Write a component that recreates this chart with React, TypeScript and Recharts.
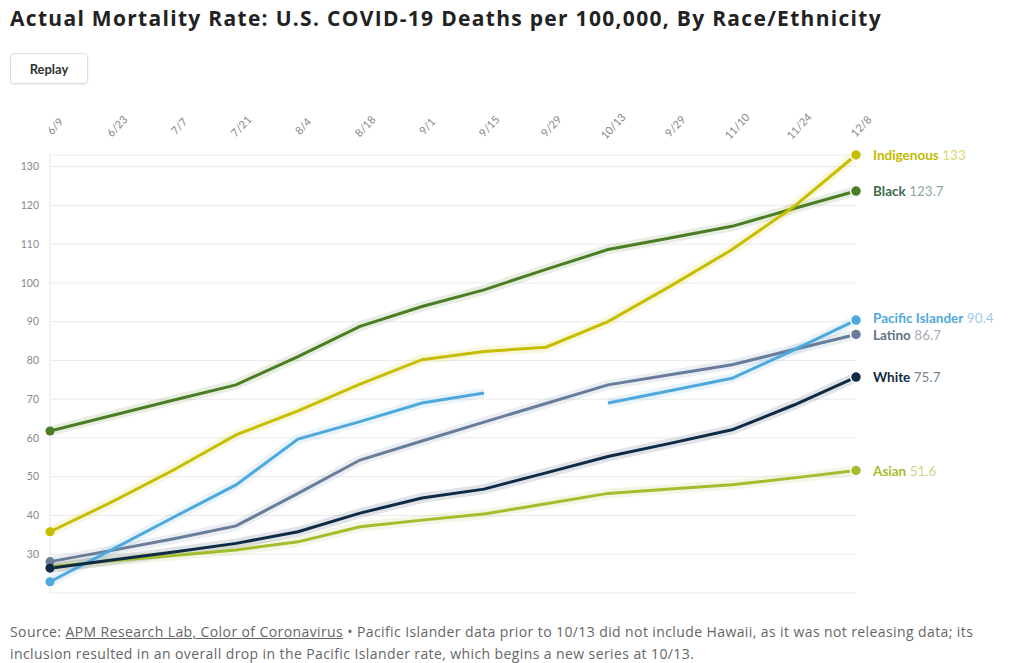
import { CartesianGrid, Line, LineChart, XAxis, YAxis } from "recharts";

// Values, one per two-week period.
const dates = ["6/9", "6/23", "7/7", "7/21", "8/4", "8/18", "9/1", "9/15", "9/29", "10/13", "9/29", "11/10", "11/24", "12/8"];
const indigenous = [35.8, 43.5, 51.8, 60.8, 67.0, 73.9, 80.2, 82.3, 83.4, 90.0, 99.1, 108.6, 119.7, 133];
const black = [61.8, 65.8, 69.8, 73.7, 81.0, 88.8, 93.9, 98.2, 103.5, 108.6, 111.6, 114.6, 119.2, 123.7];
const pacificIslander = [22.9, 31.2, 39.6, 47.9, 59.7, 64.2, 69.0, 71.6, null, 69.0, 72.2, 75.4, 82.7, 90.4];
const latino = [28.1, 31.0, 34.0, 37.3, 45.7, 54.3, 59.2, 64.1, 68.9, 73.7, 76.3, 78.9, 82.8, 86.7];
const white = [26.4, 28.5, 30.6, 32.8, 35.8, 40.6, 44.5, 46.8, 51.0, 55.2, 58.6, 62.1, 68.5, 75.7];
const asian = [26.8, 28.3, 29.7, 31.1, 33.2, 37.1, 38.8, 40.4, 43.0, 45.7, 46.8, 47.9, 49.7, 51.6];
const yTicks = [20, 30, 40, 50, 60, 70, 80, 90, 100, 110, 120, 130];

const series = [
  { key: "asian", name: "Asian", values: asian, color: "#a4bd2c", text: "#a4bd2c", nudge: 0 },
  { key: "latino", name: "Latino", values: latino, color: "#687d99", text: "#5f7289", nudge: 1 },
  { key: "pacific", name: "Pacific Islander", values: pacificIslander, color: "#4fa8dc", text: "#4fa8dc", nudge: -2 },
  { key: "white", name: "White", values: white, color: "#0e2a45", text: "#0e2a45", nudge: 0 },
  { key: "black", name: "Black", values: black, color: "#4b7d24", text: "#3d6b4c", nudge: 0 },
  { key: "indigenous", name: "Indigenous", values: indigenous, color: "#c6be00", text: "#c2ba00", nudge: 0 },
];

const data = dates.map((date, i) => {
  const row: Record<string, string | number | null> = { date };
  series.forEach((s) => (row[s.key] = s.values[i]));
  return row;
});

const font = "Lato, 'Open Sans', sans-serif";
const wideFont = "'Open Sans', Lato, sans-serif";
const last = dates.length - 1;

function DateTick({ x, y, payload }: any) {
  return (
    <g transform={`translate(${x + 6},${y - 20})`}>
      <text transform="rotate(-47)" textAnchor="middle" dominantBaseline="middle" fontSize={11} fill="#888" fontFamily={font}>
        {payload.value}
      </text>
    </g>
  );
}

// start and end dots, plus the name/value label next to the last point
function makeDot(s: (typeof series)[number]) {
  return (props: any) => {
    const { cx, cy, index } = props;
    if (cy == null || (index !== 0 && index !== last)) return <g key={`${s.key}-${index}`} />;
    if (index === 0) {
      return <circle key={`${s.key}-${index}`} cx={cx} cy={cy} r={4.5} fill={s.color} />;
    }
    return (
      <g key={`${s.key}-${index}`}>
        <circle cx={cx} cy={cy} r={5.5} fill={s.color} stroke="#fff" strokeWidth={1.5} />
        <text x={cx + 17} y={cy + s.nudge} dominantBaseline="central" fontFamily={font} fontSize={13.5}>
          <tspan fontWeight={700} fill={s.text}>{s.name}</tspan>
          <tspan fill={s.text} fillOpacity={0.6}> {s.values[index]}</tspan>
        </text>
      </g>
    );
  };
}

export default function App() {
  return (
    <div style={{ position: "absolute", left: 0, top: 0, width: 1020, height: 663, background: "#fff", fontFamily: font }}>
      <div
        style={{
          position: "absolute",
          left: 10,
          top: 4,
          fontFamily: wideFont,
          fontSize: 21,
          letterSpacing: 1.3,
          fontWeight: 700,
          color: "#222",
          whiteSpace: "nowrap",
        }}
      >
        Actual Mortality Rate: U.S. COVID-19 Deaths per 100,000, By Race/Ethnicity
      </div>
      <div
        style={{
          position: "absolute",
          left: 10,
          top: 53,
          width: 78,
          height: 31,
          border: "1px solid #ddd",
          borderRadius: 4,
          boxSizing: "border-box",
          fontSize: 13,
          fontWeight: 700,
          color: "#333",
          display: "flex",
          alignItems: "center",
          justifyContent: "center",
          boxShadow: "0 1px 2px rgba(0,0,0,0.08)",
        }}
      >
        Replay
      </div>
      <div style={{ position: "absolute", left: 0, top: 100 }}>
        <LineChart width={1020} height={498} data={data} margin={{ top: 10, right: 164, bottom: 5, left: 10 }}>
          <CartesianGrid vertical={false} stroke="#ebebeb" />
          <XAxis
            dataKey="date"
            orientation="top"
            height={45}
            axisLine={false}
            tickLine={false}
            interval={0}
            tick={<DateTick />}
          />
          <YAxis
            domain={[20, 133]}
            ticks={yTicks}
            width={40}
            axisLine={{ stroke: "#e6e6e6" }}
            tickLine={false}
            tickMargin={5}
            tick={{ fontSize: 10.5, fill: "#888", fontFamily: font }}
          />
          {series.map((s) => (
            <Line
              key={`${s.key}-halo`}
              dataKey={s.key}
              stroke={s.color}
              strokeOpacity={0.13}
              strokeWidth={10}
              dot={false}
              activeDot={false}
              legendType="none"
              isAnimationActive={false}
            />
          ))}
          {series.map((s) => (
            <Line
              key={s.key}
              dataKey={s.key}
              stroke={s.color}
              strokeWidth={3}
              dot={makeDot(s)}
              activeDot={false}
              isAnimationActive={false}
            />
          ))}
        </LineChart>
      </div>
      <div
        style={{
          position: "absolute",
          left: 10,
          top: 621,
          fontFamily: wideFont,
          fontSize: 14,
          letterSpacing: 0.4,
          lineHeight: "22px",
          color: "#666",
          whiteSpace: "nowrap",
        }}
      >
        Source: <span style={{ textDecoration: "underline" }}>APM Research Lab, Color of Coronavirus</span> • Pacific Islander
        data prior to 10/13 did not include Hawaii, as it was not releasing data; its
        <br />
        inclusion resulted in an overall drop in the Pacific Islander rate, which begins a new series at 10/13.
      </div>
    </div>
  );
}
